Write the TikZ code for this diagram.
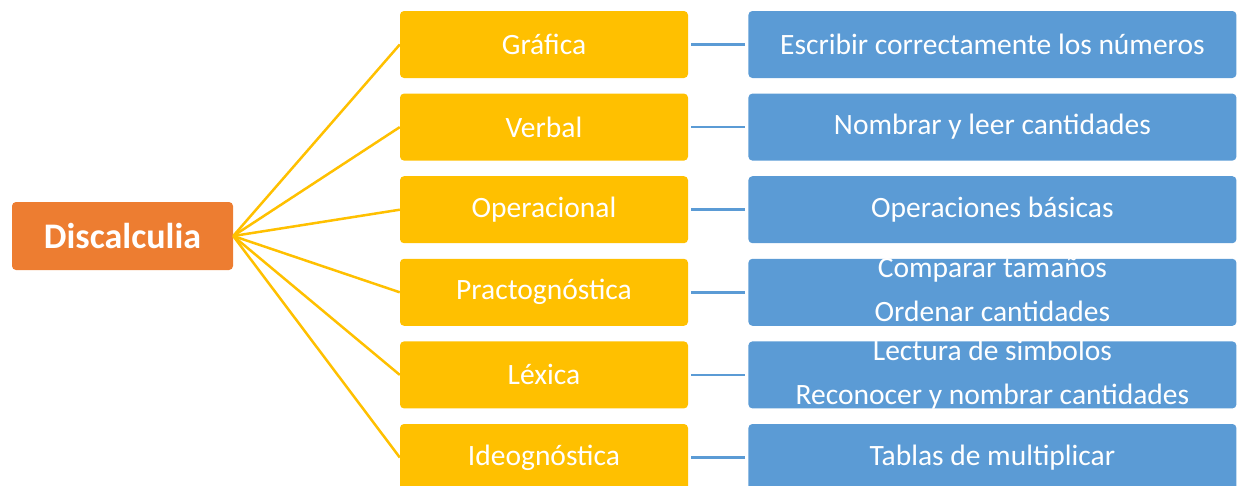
\documentclass[tikz,border=0pt]{standalone}
\usepackage{fontspec}
\setmainfont{Carlito}
\usetikzlibrary{positioning}
\definecolor{tangerine}{HTML}{ED7D31}
\definecolor{amber}{HTML}{FFC000}
\definecolor{steelblue}{HTML}{5B9BD5}
\newcommand{\twolines}[2]{\raisebox{-10pt}{\smash{\begin{tabular}{@{}c@{}}#1\\#2\end{tabular}}}}

\begin{document}
\begin{tikzpicture}[x=1pt, y=-1pt, node distance=15.2pt and 60pt,
    rootbox/.style={fill=tangerine, rounded corners=4pt, minimum width=221pt, minimum height=68pt, inner sep=0pt, text=white, font=\fontsize{36}{40}\selectfont\bfseries},
    typebox/.style={fill=amber, rounded corners=4pt, minimum width=288pt, minimum height=67pt, inner sep=0pt, text=white, font=\fontsize{29.5}{34}\selectfont},
    skillbox/.style={fill=steelblue, rounded corners=4pt, minimum width=488pt, minimum height=67pt, inner sep=0pt, text=white, font=\fontsize{29.5}{44}\selectfont},
    spoke/.style={draw=amber, line width=2.5pt},
    link/.style={draw=steelblue, line width=2.5pt, shorten <=3pt, shorten >=3pt}]
  \useasboundingbox (0,0) rectangle (1237,485);
  \node[rootbox] (root) at (122.5,236) {Discalculia};
  % tipos
  \node[typebox] (t0) at (544,44.5) {Gráfica};
  \node[typebox, below=of t0] (t1) {Verbal};
  \node[typebox, below=of t1] (t2) {Operacional};
  \node[typebox, below=of t2] (t3) {Practognóstica};
  \node[typebox, below=of t3] (t4) {Léxica};
  \node[typebox, below=of t4] (t5) {Ideognóstica};
  % habilidades
  \node[skillbox, right=of t0] (s0) {Escribir correctamente los números};
  \node[skillbox, right=of t1] (s1) {Nombrar y leer cantidades};
  \node[skillbox, right=of t2] (s2) {Operaciones básicas};
  \node[skillbox, right=of t3] (s3) {\twolines{Comparar tamaños}{Ordenar cantidades}};
  \node[skillbox, right=of t4] (s4) {\twolines{Lectura de simbolos}{Reconocer y nombrar cantidades}};
  \node[skillbox, right=of t5] (s5) {Tablas de multiplicar};
  \draw[spoke] (root.east) -- (t0.west);
  \draw[spoke] (root.east) -- (t1.west);
  \draw[spoke] (root.east) -- (t2.west);
  \draw[spoke] (root.east) -- (t3.west);
  \draw[spoke] (root.east) -- (t4.west);
  \draw[spoke] (root.east) -- (t5.west);
  \draw[link] (t0) -- (s0);
  \draw[link] (t1) -- (s1);
  \draw[link] (t2) -- (s2);
  \draw[link] (t3) -- (s3);
  \draw[link] (t4) -- (s4);
  \draw[link] (t5) -- (s5);
\end{tikzpicture}
\end{document}
